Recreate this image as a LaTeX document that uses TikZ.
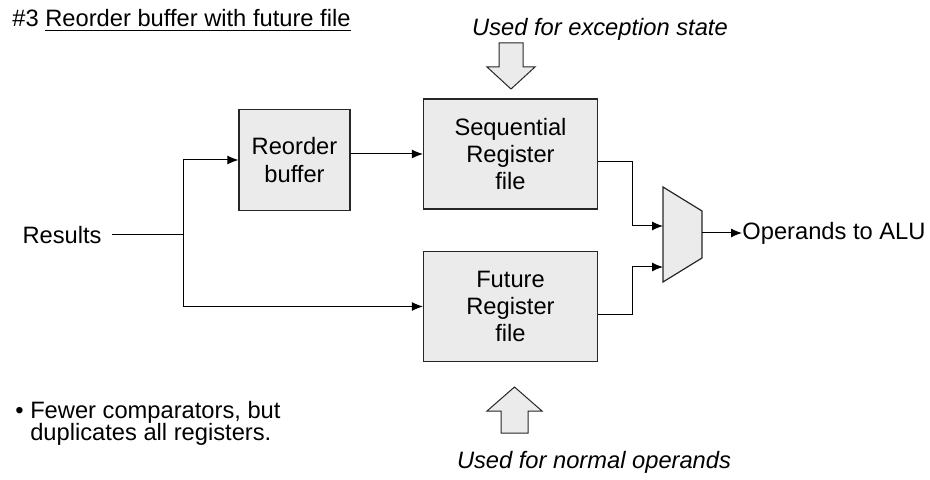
\documentclass[tikz,border=0pt]{standalone}
\usepackage{fontspec}
\setmainfont{Liberation Sans}
\usetikzlibrary{arrows.meta}

\begin{document}
\begin{tikzpicture}[x=0.5pt,y=-0.5pt]
        \def\regw{87pt}
        \def\regh{55pt}
        \tikzstyle{every node} = [font=\fontsize{11.85}{13.6}\selectfont, inner sep=0pt]
        \tikzstyle{box} = [draw=black!85, fill=black!8, line width=0.6pt, align=center]
        \tikzstyle{wire} = [line width=0.5pt, -{Latex[length=5.5pt,width=4.5pt]}]
        \tikzstyle{bigarrow} = [draw=black!85, fill=black!8, line width=0.5pt]
        \useasboundingbox (0,0) rectangle (930,480);
        % Heading of the slide
        \node[anchor=base west] (heading) at (12,27) {\#3 \underline{Reorder buffer with future file}};
        % Input on the left
        \node[anchor=east, inner xsep=5pt] (results) at (112,235) {Results};
        \coordinate (split) at (183,235);
        % The three storage blocks
        \node[box, minimum width=55.5pt, minimum height=50.5pt] (reorder) at (294.5,160) {Reorder\\buffer};
        \node[box, minimum width=\regw, minimum height=\regh] (seqrf) at (510.5,154) {Sequential\\Register\\file};
        \node[box, minimum width=\regw, minimum height=\regh] (futrf) at (510.5,306.5) {Future\\Register\\file};
        % Mux in front of the ALU
        \draw[box] (663,187) -- (702,211) -- (702,258) -- (663,282) -- cycle;
        \coordinate (muxa) at (663,226);
        \coordinate (muxb) at (663,267);
        \coordinate (muxout) at (702,233);
        \node[anchor=west] (alu) at (742,233) {Operands to ALU};
        % Wiring
        \draw[line width=0.5pt] (results.east) -- (split);
        \draw[wire] (split) |- (reorder.west);
        \draw[wire] (split) |- (futrf.west);
        \draw[wire] (reorder.east |- seqrf) -- (seqrf.west);
        \draw[wire] ([yshift=-4pt]seqrf.east) -- ++(34,0) |- (muxa);
        \draw[wire] ([yshift=-4pt]futrf.east) -- ++(34,0) |- (muxb);
        \draw[wire] (muxout) -- (alu.west);
        % Fat arrows with their notes
        \node[anchor=base, font=\fontsize{11.85}{13.6}\selectfont\itshape] (exnote) at (600,36) {Used for exception state};
        \draw[bigarrow] (499,43) -- (523,43) -- (523,67) -- (535,67) -- (511,89) -- (487,67) -- (499,67) -- cycle;
        \draw[bigarrow] (501,433) -- (528,433) -- (528,411) -- (542,411) -- (514.5,387) -- (487,411) -- (501,411) -- cycle;
        \node[anchor=base, font=\fontsize{11.85}{13.6}\selectfont\itshape] (opnote) at (594,468) {Used for normal operands};
        % Remark at the bottom left
        \node[anchor=base west, align=left, font=\fontsize{11.85}{10.6}\selectfont] (remark) at (15,440)
            {\textbullet\ Fewer comparators, but\\[-1.5pt]\phantom{\textbullet}\ duplicates all registers.};
\end{tikzpicture}
\end{document}
